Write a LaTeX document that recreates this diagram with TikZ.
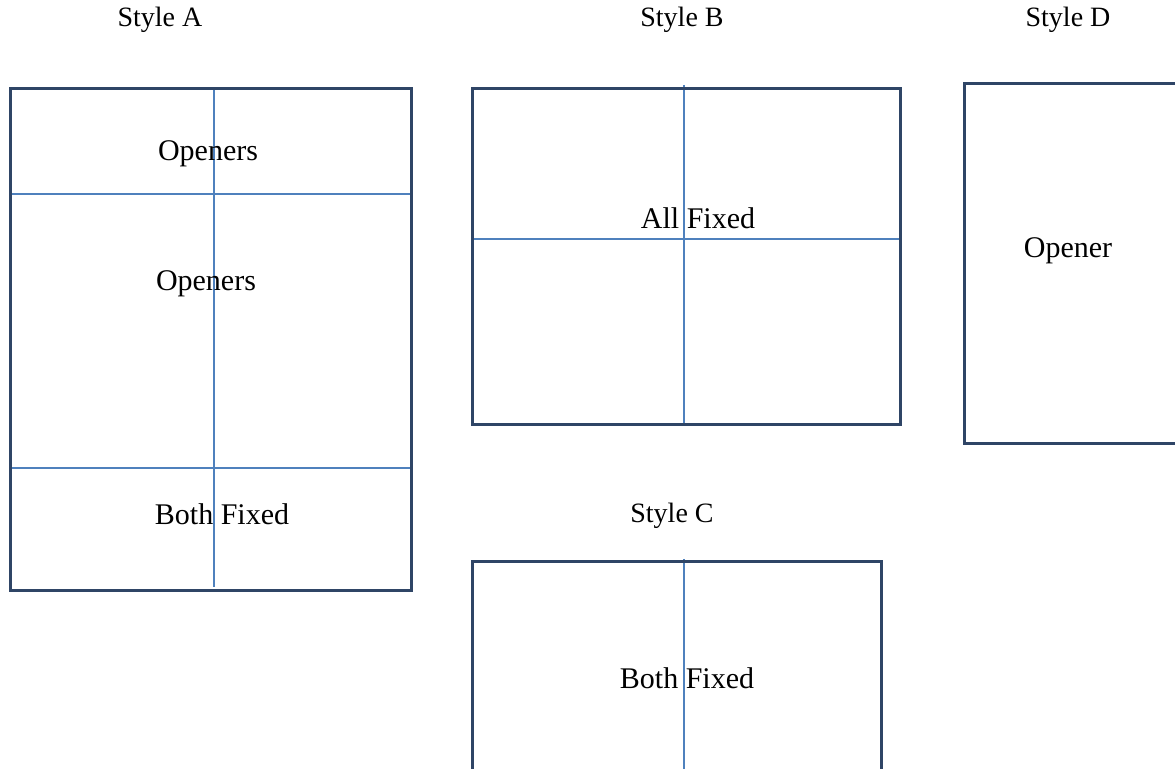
\documentclass[tikz,border=0pt]{standalone}
\usepackage{fontspec}
\setmainfont{Liberation Serif}
\usetikzlibrary{positioning, calc}
\definecolor{framecol}{RGB}{47,69,102}
\definecolor{mullion}{RGB}{79,129,189}
\tikzset{frame/.style={draw=framecol, line width=1.5pt}}
\tikzset{bar/.style={draw=mullion, line width=0.6pt}}
\tikzset{pane/.style={inner sep=0pt, font=\fontsize{15}{18}\selectfont}}
\tikzset{heading/.style={inner sep=0pt, font=\fontsize{14}{17}\selectfont}}

\begin{document}
\begin{tikzpicture}[x=0.5pt, y=-0.5pt]
          \useasboundingbox (0,0) rectangle (1175,769);
          \clip (0,0) rectangle (1175,769);

          % style A
          \coordinate (a1) at (10,89);
          \coordinate (a2) at (411,591);
          \draw[bar] ($(a1)+(0,105)$) -- ($(a2)-(0,397)$);
          \draw[bar] ($(a1)+(0,379)$) -- ($(a2)-(0,123)$);
          \draw[bar] (214,89) -- (214,587);
          \draw[frame] (a1) rectangle (a2);
          \node[heading] (labela) at (160,20) {Style A};
          \node[pane] (pa1) at (208,154) {Openers};
          \node[pane] (pa2) at (206,284) {Openers};
          \node[pane] (pa3) at (222,514) {Both Fixed};

          % style B
          \coordinate (b1) at (472,89);
          \coordinate (b2) at (900,425);
          \draw[bar] ($(b1)+(0,150)$) -- ($(b2)-(0,186)$);
          \draw[bar] (684,85) -- (684,425);
          \draw[frame] (b1) rectangle (b2);
          \node[heading] (labelb) at (682,20) {Style B};
          \node[pane] (pb1) at (698,218) {All Fixed};

          % style C
          \coordinate (c1) at (472,562);
          \coordinate (c2) at (881,800);
          \draw[bar] (684,559) -- (684,800);
          \draw[frame] (c1) rectangle (c2);
          \node[heading] (labelc) at (672,516) {Style C};
          \node[pane] (pc1) at (687,678) {Both Fixed};

          % style D
          \coordinate (d1) at (964,84);
          \coordinate (d2) at (1200,444);
          \draw[frame] (d1) rectangle (d2);
          \node[heading] (labeld) at (1068,20) {Style D};
          \node[pane] (pd1) at (1068,251) {Opener};
        \end{tikzpicture}
\end{document}
